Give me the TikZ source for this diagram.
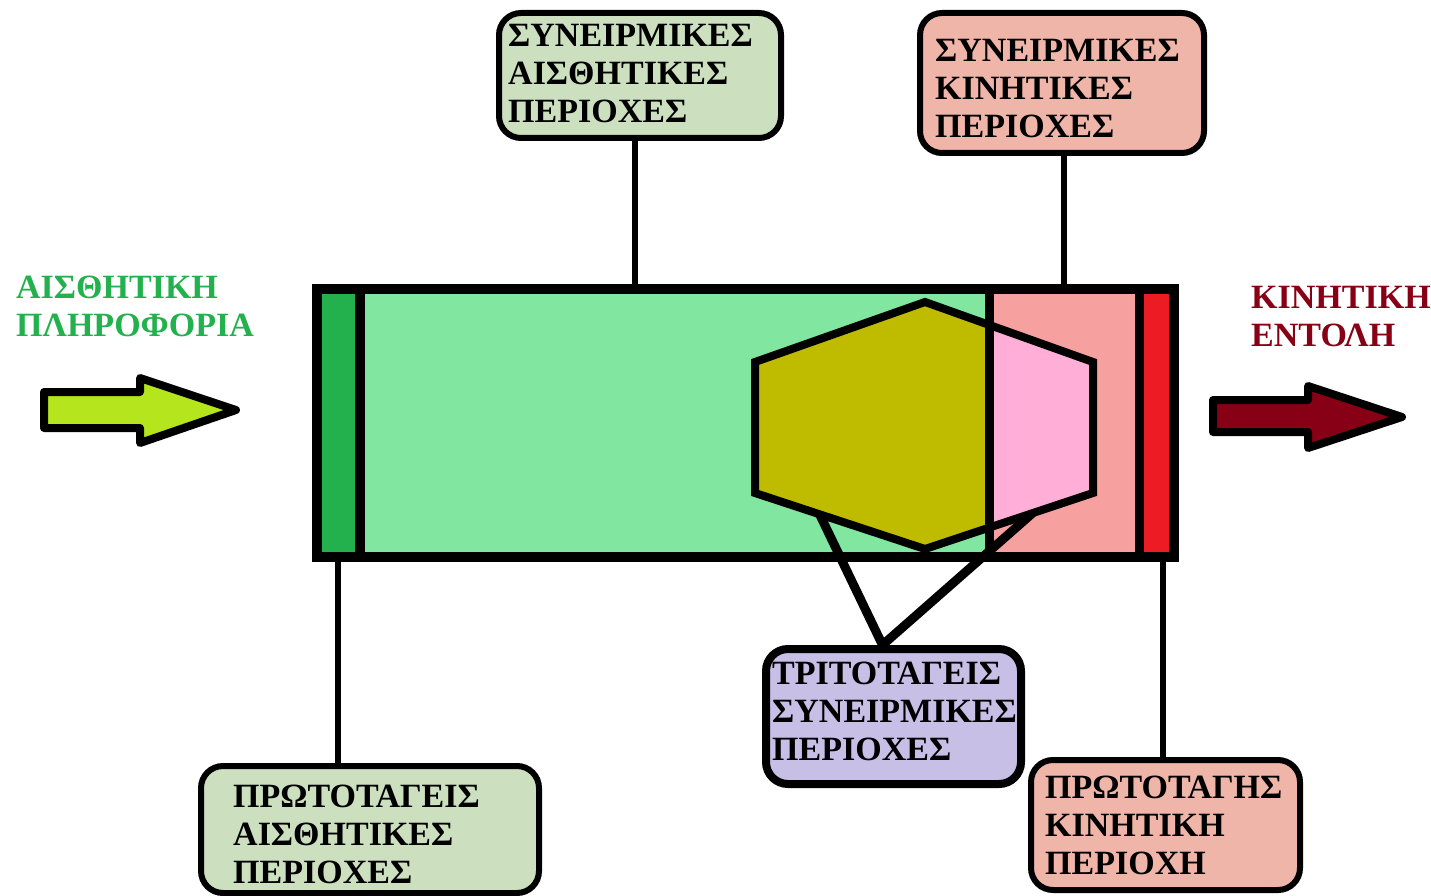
\documentclass[tikz,border=0pt]{standalone}
\usepackage{fontspec}
\setmainfont{Liberation Serif}
\usetikzlibrary{calc}

\definecolor{stripgreen}{HTML}{22B14C}
\definecolor{fieldgreen}{HTML}{80E6A0}
\definecolor{fieldsalmon}{HTML}{F7A0A0}
\definecolor{stripred}{HTML}{ED1C24}
\definecolor{hexolive}{HTML}{BFBC00}
\definecolor{hexpink}{HTML}{FFAFD7}
\definecolor{sagebox}{HTML}{CCE0C0}
\definecolor{salmonbox}{HTML}{EFB5A9}
\definecolor{lilacbox}{HTML}{C8BFE7}
\definecolor{limearrow}{HTML}{B5E61D}
\definecolor{wine}{HTML}{880015}

\begin{document}
\begin{tikzpicture}[x=1pt,y=-1pt,
  areabox/.style={draw=black, rounded corners=22pt, line width=6pt, inner sep=0pt},
  boxtext/.style={anchor=north west, inner sep=0pt, align=left,
    font=\bfseries\fontsize{34}{38}\selectfont},
  link/.style={draw=black, line width=6pt},
  hexlink/.style={draw=black, line width=9pt},
  bigarrow/.style={draw=black, line width=8pt, line join=round}]

\useasboundingbox (0,0) rectangle (1431,896);

% central cortex panel
\node (panel) [minimum width=857pt, minimum height=268pt, inner sep=0pt] at (745.5,423) {};
\fill[stripgreen]  (317,289) rectangle (360,557);
\fill[fieldgreen]  (360,289) rectangle (989,557);
\fill[fieldsalmon] (989,289) rectangle (1139,557);
\fill[stripred]    (1139,289) rectangle (1174,557);

% hexagon of the tertiary association areas
\coordinate (hT)  at (925,302);
\coordinate (hUR) at (1093,362);
\coordinate (hLR) at (1093,493);
\coordinate (hB)  at (925,549);
\coordinate (hLL) at (755,493);
\coordinate (hUL) at (755,362);
\begin{scope}
  \clip (317,289) rectangle (989,557);
  \fill[hexolive] (hT) -- (hUR) -- (hLR) -- (hB) -- (hLL) -- (hUL) -- cycle;
\end{scope}
\begin{scope}
  \clip (989,289) rectangle (1174,557);
  \fill[hexpink] (hT) -- (hUR) -- (hLR) -- (hB) -- (hLL) -- (hUL) -- cycle;
\end{scope}
\draw[line width=8pt] (hT) -- (hUR) -- (hLR) -- (hB) -- (hLL) -- (hUL) -- cycle;

% panel dividers and frame
\draw[line width=10pt] (360,289) -- (360,557);
\draw[line width=9pt] (989,289) -- (989,557);
\draw[line width=9pt] (1139,289) -- (1139,557);
\draw[line width=10pt] (panel.south west) rectangle (panel.north east);

% area boxes
\node (assocsens) [areabox, fill=sagebox, minimum width=282pt, minimum height=125pt] at (640,75.5) {};
\node (assocmot) [areabox, fill=salmonbox, minimum width=284pt, minimum height=140pt] at (1062,83) {};
\node (primsens) [areabox, fill=sagebox, minimum width=338pt, minimum height=127pt] at (370,829.5) {};
\node (tertiary) [areabox, line width=8pt, fill=lilacbox, minimum width=255pt, minimum height=135pt] at (893.5,716.5) {};
\node (primmot) [areabox, fill=salmonbox, minimum width=269pt, minimum height=130pt] at (1165.5,825) {};

\node (assocsenstext) [boxtext] at (508,24) {ΣΥΝΕΙΡΜΙΚΕΣ\\ΑΙΣΘΗΤΙΚΕΣ\\ΠΕΡΙΟΧΕΣ};
\node (assocmottext) [boxtext] at (935,39) {ΣΥΝΕΙΡΜΙΚΕΣ\\ΚΙΝΗΤΙΚΕΣ\\ΠΕΡΙΟΧΕΣ};
\node (primsenstext) [boxtext] at (233,785) {ΠΡΩΤΟΤΑΓΕΙΣ\\ΑΙΣΘΗΤΙΚΕΣ\\ΠΕΡΙΟΧΕΣ};
\node (tertiarytext) [boxtext] at (772,662) {ΤΡΙΤΟΤΑΓΕΙΣ\\ΣΥΝΕΙΡΜΙΚΕΣ\\ΠΕΡΙΟΧΕΣ};
\node (primmottext) [boxtext] at (1045,776) {ΠΡΩΤΟΤΑΓΗΣ\\ΚΙΝΗΤΙΚΗ\\ΠΕΡΙΟΧΗ};

% connectors from boxes to the panel
\draw[link] ([xshift=-5pt]assocsens.south) -- ([xshift=-5pt]assocsens.south |- panel.north);
\draw[link] ([xshift=2pt]assocmot.south) -- ([xshift=2pt]assocmot.south |- panel.north);
\draw[link] ([xshift=-32pt]primsens.north) -- ([xshift=-32pt]primsens.north |- panel.south);
\draw[link] ([xshift=-3pt]primmot.north) -- ([xshift=-3pt]primmot.north |- panel.south);

% connectors from the hexagon to the tertiary box
\coordinate (hexleft)  at ($(hLL)!0.38!(hB)$);
\coordinate (hexright) at ($(hLR)!0.36!(hB)$);
\coordinate (tertjoin) at ([xshift=-11pt]tertiary.north);
\draw[hexlink, line join=round] (hexleft) -- (tertjoin) -- (hexright);

% input and output labels
\node (inlabel) [boxtext, text=stripgreen] at (16,276) {ΑΙΣΘΗΤΙΚΗ\\ΠΛΗΡΟΦΟΡΙΑ};
\node (outlabel) [boxtext, text=wine] at (1251,286) {ΚΙΝΗΤΙΚΗ\\ΕΝΤΟΛΗ};

% block arrows
\draw[bigarrow, fill=limearrow] (44,392) -- (140,392) -- (140,378) -- (236,410)
  -- (140,443) -- (140,428) -- (44,428) -- cycle;
\draw[bigarrow, fill=wine] (1213,400) -- (1308,400) -- (1308,386) -- (1402,417)
  -- (1308,448) -- (1308,432) -- (1213,432) -- cycle;

\end{tikzpicture}
\end{document}
